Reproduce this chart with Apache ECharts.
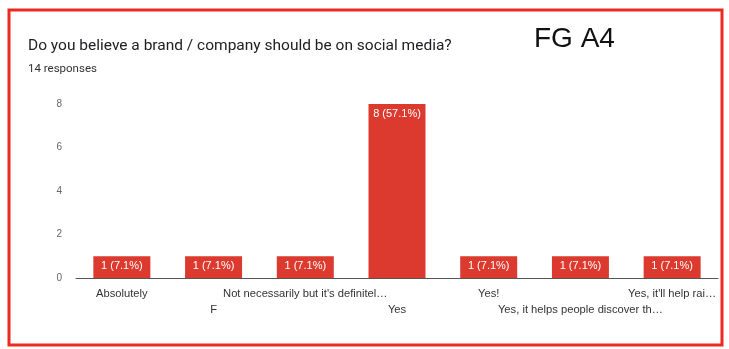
<!DOCTYPE html>
<html><head><meta charset="utf-8">
<script src="https://cdn.jsdelivr.net/npm/echarts@6/dist/echarts.min.js"></script>
<style>html,body{margin:0;padding:0;background:#fff}#c{width:729px;height:349px}</style>
</head><body><div id="c"></div>
<script>
const categories = ["Absolutely", "F", "Not necessarily but it's definitel\u2026", "Yes", "Yes!", "Yes, it helps people discover th\u2026", "Yes, it'll help rai\u2026"];
const counts = [1, 1, 1, 8, 1, 1, 1];
const percents = [7.1, 7.1, 7.1, 57.1, 7.1, 7.1, 7.1];
const yTicks = [0, 2, 4, 6, 8];
const titleText = "Do you believe a brand / company should be on social media?";
const subtitleText = "14 responses";
const tagText = "FG A4";

const chart = echarts.init(document.getElementById('c'), null, {renderer: 'canvas'});
chart.setOption({
  animation: false,
  backgroundColor: '#fff',
  title: [
    {text: titleText, left: 23, top: 33, textStyle: {fontFamily: 'Roboto', fontSize: 15.5, fontWeight: 'normal', color: '#202124'}},
    {text: subtitleText, left: 23, top: 58, textStyle: {fontFamily: 'Roboto', fontSize: 11.5, fontWeight: 'normal', color: '#333'}},
    {text: tagText, left: 529, top: 20, textStyle: {fontFamily: 'Liberation Sans', fontSize: 28, fontWeight: 'normal', color: '#111'}}
  ],
  graphic: [
    {type: 'rect', shape: {x: 9, y: 10, width: 713, height: 335}, style: {fill: 'none', stroke: '#ec2a1f', lineWidth: 3}, silent: true}
  ],
  grid: {left: 76, right: 11, top: 104, bottom: 71, containLabel: false},
  xAxis: {
    type: 'category', data: categories,
    axisTick: {show: false},
    axisLine: {lineStyle: {color: '#555', width: 1}},
    axisLabel: {
      interval: 0, margin: 8, color: '#333', fontFamily: 'Liberation Sans', fontSize: 11.2, lineHeight: 16,
      formatter: (v, i) => (i % 2 === 1 ? '\n' + v : v)
    }
  },
  yAxis: {
    type: 'value', min: 0, max: 8, interval: 2,
    axisLabel: {color: '#666', fontFamily: 'Liberation Sans', fontSize: 10, margin: 14},
    splitLine: {show: false}, axisLine: {show: false}, axisTick: {show: false}
  },
  series: [{
    type: 'bar', data: counts, barWidth: 57,
    itemStyle: {color: '#dc3a2e'},
    label: {
      show: true, position: 'insideTop', distance: 4, color: '#fff', fontFamily: 'Liberation Sans', fontSize: 11,
      formatter: p => counts[p.dataIndex] + ' (' + percents[p.dataIndex].toFixed(1) + '%)'
    }
  }]
});
</script></body></html>
